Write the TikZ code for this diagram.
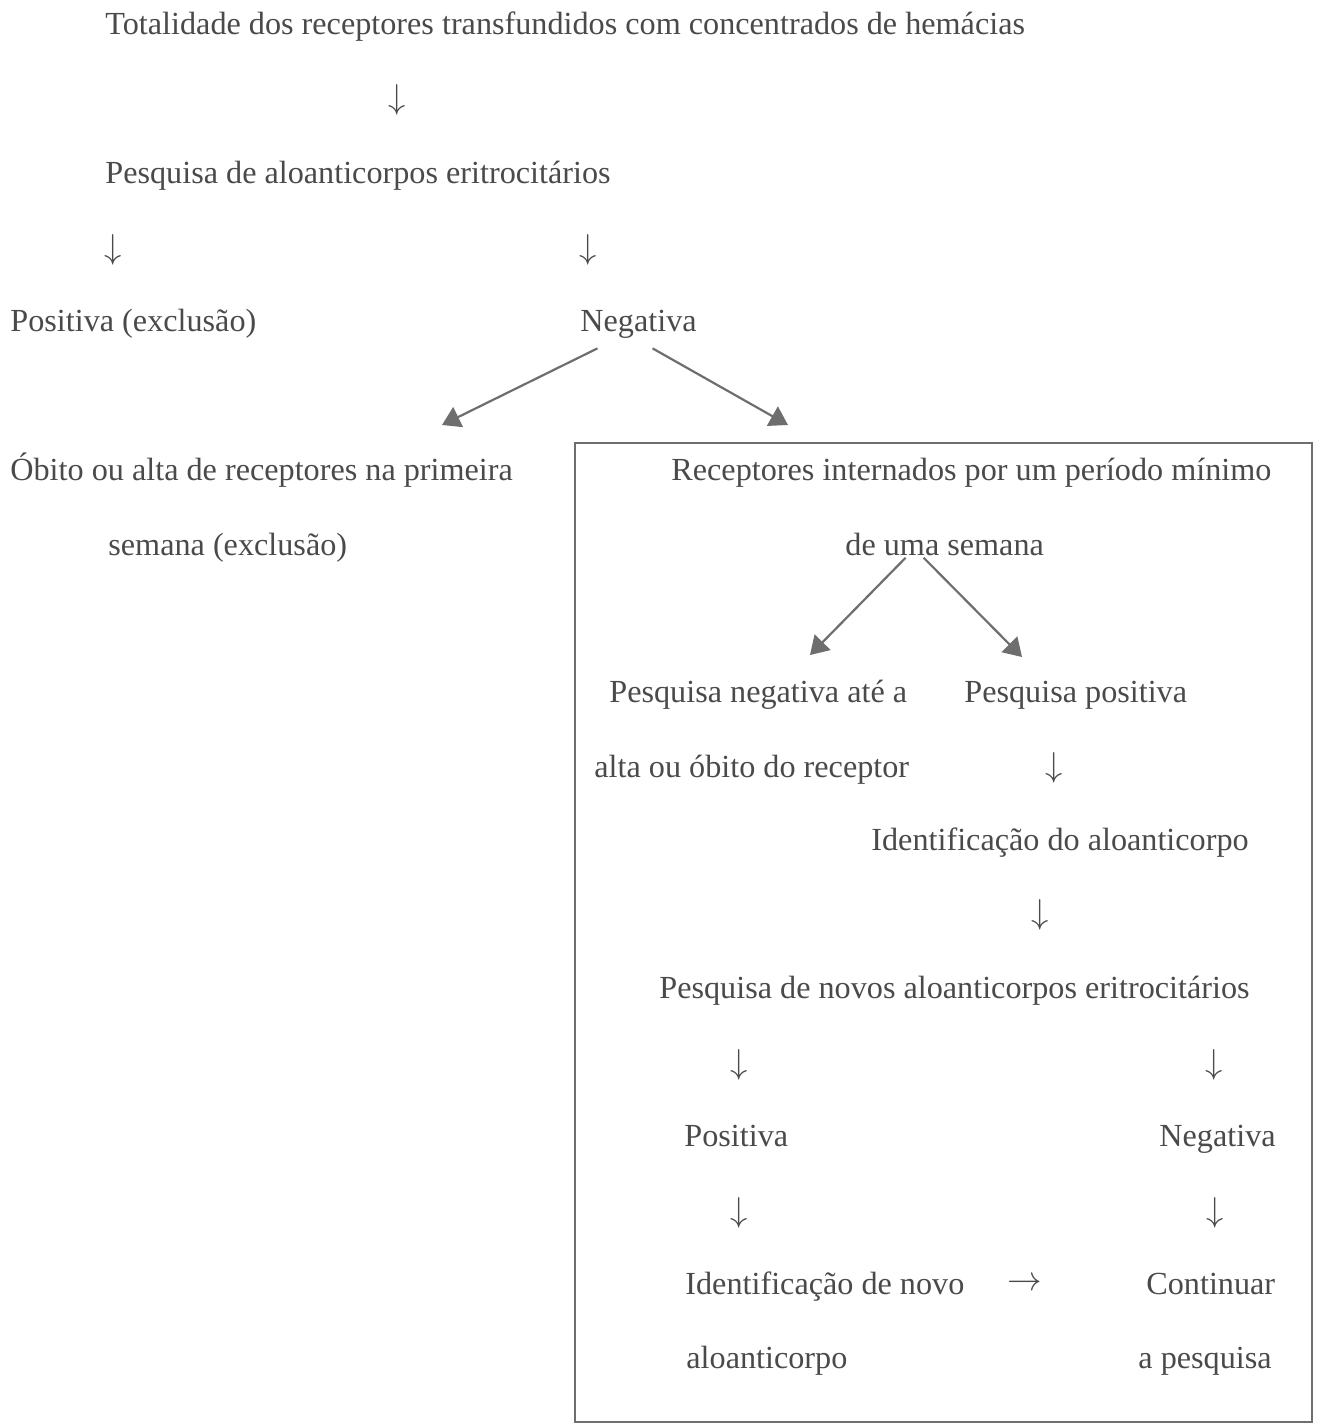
\documentclass[tikz,border=0pt]{standalone}
\usepackage{fontspec}
\setmainfont{Liberation Serif}
\usetikzlibrary{positioning}
\usetikzlibrary{arrows.meta}
\definecolor{inkgray}{HTML}{4A4A4A}
\definecolor{arrowgray}{HTML}{6E6E6E}
\tikzset{
	txt/.style={anchor=base west, inner sep=0pt, text=inkgray, font=\fontsize{16.1}{19}\selectfont},
	dn/.style={inner sep=0pt, text=inkgray, font=\fontsize{16.1}{19}\selectfont},
	diag/.style={draw=arrowgray, line width=1.1pt, -{Triangle[length=9pt,width=11pt]}},
	frame/.style={draw=arrowgray, line width=1.2pt}
}

\begin{document}
\begin{tikzpicture}[x=0.5pt, y=-0.5pt]
	\useasboundingbox (0,0) rectangle (1328,1424);
	
	\node [txt] at (105,34) (1tot) {Totalidade dos receptores transfundidos com concentrados de hemácias};
	\node [dn] at (397,100) (2dn) {$\downarrow$};
	\node [txt] at (105,183) (3pesq) {Pesquisa de aloanticorpos eritrocitários};
	\node [dn] at (113,250) (4dn) {$\downarrow$}; \node [dn] at (588,250) (4dn2) {$\downarrow$};
	\node [txt] at (10,331) (5pos) {Positiva (exclusão)}; \node [txt] at (580,331) (5neg) {Negativa};
	\coordinate (6l) at (442,425); \coordinate (6r) at (788,425);
	\draw [diag] ([shift={(-41,10)}]5neg.south) -- (6l);
	\draw [diag] ([shift={(14,10)}]5neg.south) -- (6r);
	
	\node [txt] at (10,480) (7obito) {Óbito ou alta de receptores na primeira};
	\node [txt] at (108,555) (7sem) {semana (exclusão)};
	
	% box on the right
	\draw [frame] (575,443) rectangle (1312,1422);
	\node [txt] at (671,480) (8rec) {Receptores internados por um período mínimo};
	\node [txt] at (845,555) (8sem) {de uma semana};
	\coordinate (9l) at (810,655); \coordinate (9r) at (1022,657);
	\draw [diag] ([shift={(-39,2)}]8sem.south) -- (9l);
	\draw [diag] ([shift={(-21,2)}]8sem.south) -- (9r);
	
	\node [txt] at (609,702) (10neg) {Pesquisa negativa até a}; \node [txt] at (964,702) (10pos) {Pesquisa positiva};
	\node [txt] at (594,777) (11alta) {alta ou óbito do receptor}; \node [dn] at (1054,768) (11dn) {$\downarrow$};
	\node [txt] at (871,850) (12ident) {Identificação do aloanticorpo};
	\node [dn] at (1040,915) (13dn) {$\downarrow$};
	\node [txt] at (659,998) (14novos) {Pesquisa de novos aloanticorpos eritrocitários};
	\node [dn] at (739,1065) (15dn) {$\downarrow$}; \node [dn] at (1214,1065) (15dn2) {$\downarrow$};
	\node [txt] at (684,1146) (16pos) {Positiva}; \node [txt] at (1159,1146) (16neg) {Negativa};
	\node [dn] at (739,1213) (17dn) {$\downarrow$}; \node [dn] at (1215,1213) (17dn2) {$\downarrow$};
	\node [txt] at (685,1294) (18novo) {Identificação de novo}; \node [dn] at (1025,1284) (18rt) {$\rightarrow$};
	\node [txt] at (1146,1294) (18cont) {Continuar};
	\node [txt] at (686,1368) (19alo) {aloanticorpo}; \node [txt] at (1138,1368) (19pesq) {a pesquisa};
\end{tikzpicture}
\end{document}
